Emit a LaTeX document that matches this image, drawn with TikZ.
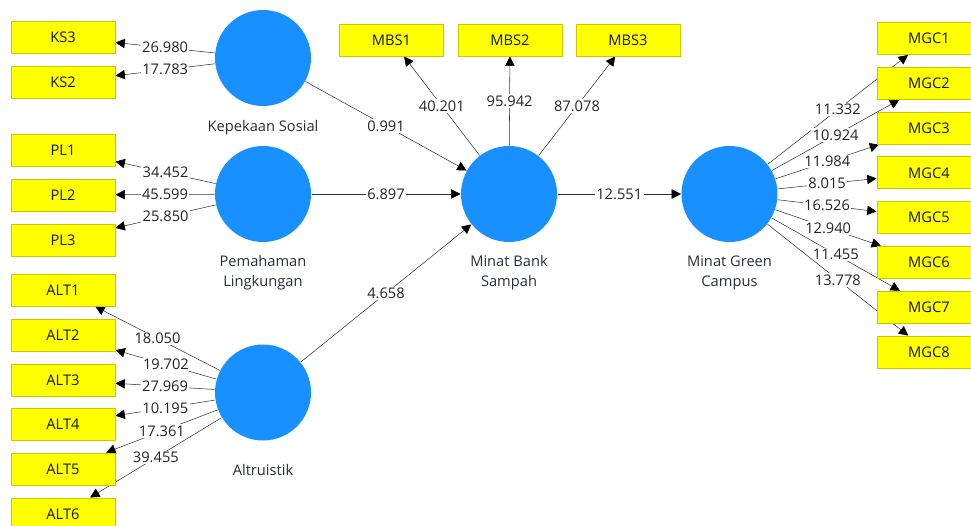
\documentclass[tikz,border=0pt]{standalone}
\usepackage{fontspec}
\setmainfont{Open Sans}
\usetikzlibrary{arrows.meta,backgrounds}

\tikzset{every picture/.style={line width=0.75pt}}
\tikzset{
  lv/.style={circle, fill={rgb, 255:red, 24; green, 144; blue, 255 }, minimum size=72pt, inner sep=0pt},
  ind/.style={draw={rgb, 255:red, 200; green, 200; blue, 0 }, fill={rgb, 255:red, 255; green, 255; blue, 0 }, minimum width=78pt, minimum height=24pt, inner sep=0pt, text={rgb, 255:red, 20; green, 25; blue, 20 }},
  lvname/.style={align=center, inner sep=0.75pt, text={rgb, 255:red, 40; green, 45; blue, 65 }},
  lnk/.style={draw={rgb, 255:red, 50; green, 50; blue, 50 }, -{Triangle[length=7pt,width=7pt,color=black]}},
  coef/.style={fill=white, inner sep=1pt, text={rgb, 255:red, 35; green, 35; blue, 40 }},
}

\begin{document}
\begin{tikzpicture}[x=0.75pt,y=0.75pt,yscale=-1,xscale=1,every node/.style={font=\fontsize{11}{15}\selectfont}]
	\useasboundingbox (0,0) rectangle (971,525);
	
	%Shape: Circle
	\node [lv] (KS) at (263,58) {};
	%Shape: Circle
	\node [lv] (PL) at (263,194) {};
	%Shape: Circle
	\node [lv] (ALT) at (263,392.5) {};
	%Shape: Circle
	\node [lv] (MBS) at (509,194) {};
	%Shape: Circle
	\node [lv] (MGC) at (729.5,194) {};
	
	%Shape: Rectangle
	\node [ind] (KS3) at (63,37) {KS3};
	\node [ind] (KS2) at (63,82) {KS2};
	\node [ind] (PL1) at (63,150) {PL1};
	\node [ind] (PL2) at (63,195) {PL2};
	\node [ind] (PL3) at (63,240) {PL3};
	\node [ind] (ALT1) at (63,290) {ALT1};
	\node [ind] (ALT2) at (63,335) {ALT2};
	\node [ind] (ALT3) at (63,380) {ALT3};
	\node [ind] (ALT4) at (63,424) {ALT4};
	\node [ind] (ALT5) at (63,469) {ALT5};
	\node [ind] (ALT6) at (63,514) {ALT6};
	%Shape: Rectangle
	\node [ind] (MBS1) at (391.5,40) {MBS1};
	\node [ind] (MBS2) at (510,40) {MBS2};
	\node [ind] (MBS3) at (628,40) {MBS3};
	%Shape: Rectangle
	\node [ind] (MGC1) at (929,38.5) {MGC1};
	\node [ind] (MGC2) at (929,83.3) {MGC2};
	\node [ind] (MGC3) at (929,128.1) {MGC3};
	\node [ind] (MGC4) at (929,172.9) {MGC4};
	\node [ind] (MGC5) at (929,217.7) {MGC5};
	\node [ind] (MGC6) at (929,262.5) {MGC6};
	\node [ind] (MGC7) at (929,307.3) {MGC7};
	\node [ind] (MGC8) at (929,352.1) {MGC8};
	
	% Text Node
	\node [lvname] (KSname) at (263,128) {Kepekaan Sosial};
	% Text Node
	\node [lvname] (PLname) at (263,273) {Pemahaman\\Lingkungan};
	% Text Node
	\node [lvname] (ALTname) at (263,470) {Altruistik};
	% Text Node
	\node [lvname] (MBSname) at (509,273) {Minat Bank\\Sampah};
	% Text Node
	\node [lvname] (MGCname) at (729.5,273) {Minat Green\\Campus};
	
	\begin{pgfonlayer}{background}
	%Straight Lines
	\draw [lnk] (KS) -- node [coef] {26.980} (KS3);
	\draw [lnk] (KS) -- node [coef] {17.783} (KS2);
	\draw [lnk] (PL) -- node [coef] {34.452} (PL1);
	\draw [lnk] (PL) -- node [coef] {45.599} (PL2);
	\draw [lnk] (PL) -- node [coef] {25.850} (PL3);
	\draw [lnk] (ALT) -- node [coef] {18.050} (ALT1);
	\draw [lnk] (ALT) -- node [coef] {19.702} (ALT2);
	\draw [lnk] (ALT) -- node [coef] {27.969} (ALT3);
	\draw [lnk] (ALT) -- node [coef] {10.195} (ALT4);
	\draw [lnk] (ALT) -- node [coef] {17.361} (ALT5);
	\draw [lnk] (ALT) -- node [coef] {39.455} (ALT6);
	%Straight Lines
	\draw [lnk] (MBS) -- node [coef] {40.201} (MBS1);
	\draw [lnk] (MBS) -- node [coef] {95.942} (MBS2);
	\draw [lnk] (MBS) -- node [coef] {87.078} (MBS3);
	%Straight Lines
	\draw [lnk] (MGC) -- node [coef] {11.332} (MGC1);
	\draw [lnk] (MGC) -- node [coef] {10.924} (MGC2);
	\draw [lnk] (MGC) -- node [coef] {11.984} (MGC3);
	\draw [lnk] (MGC) -- node [coef] {8.015} (MGC4);
	\draw [lnk] (MGC) -- node [coef] {16.526} (MGC5);
	\draw [lnk] (MGC) -- node [coef] {12.940} (MGC6);
	\draw [lnk] (MGC) -- node [coef] {11.455} (MGC7);
	\draw [lnk] (MGC) -- node [coef] {13.778} (MGC8);
	%Straight Lines
	\draw [lnk] (KS) -- node [coef] {0.991} (MBS);
	\draw [lnk] (PL) -- node [coef] {6.897} (MBS);
	\draw [lnk] (ALT) -- node [coef] {4.658} (MBS);
	\draw [lnk] (MBS) -- node [coef] {12.551} (MGC);
	\end{pgfonlayer}
	
\end{tikzpicture}
\end{document}
